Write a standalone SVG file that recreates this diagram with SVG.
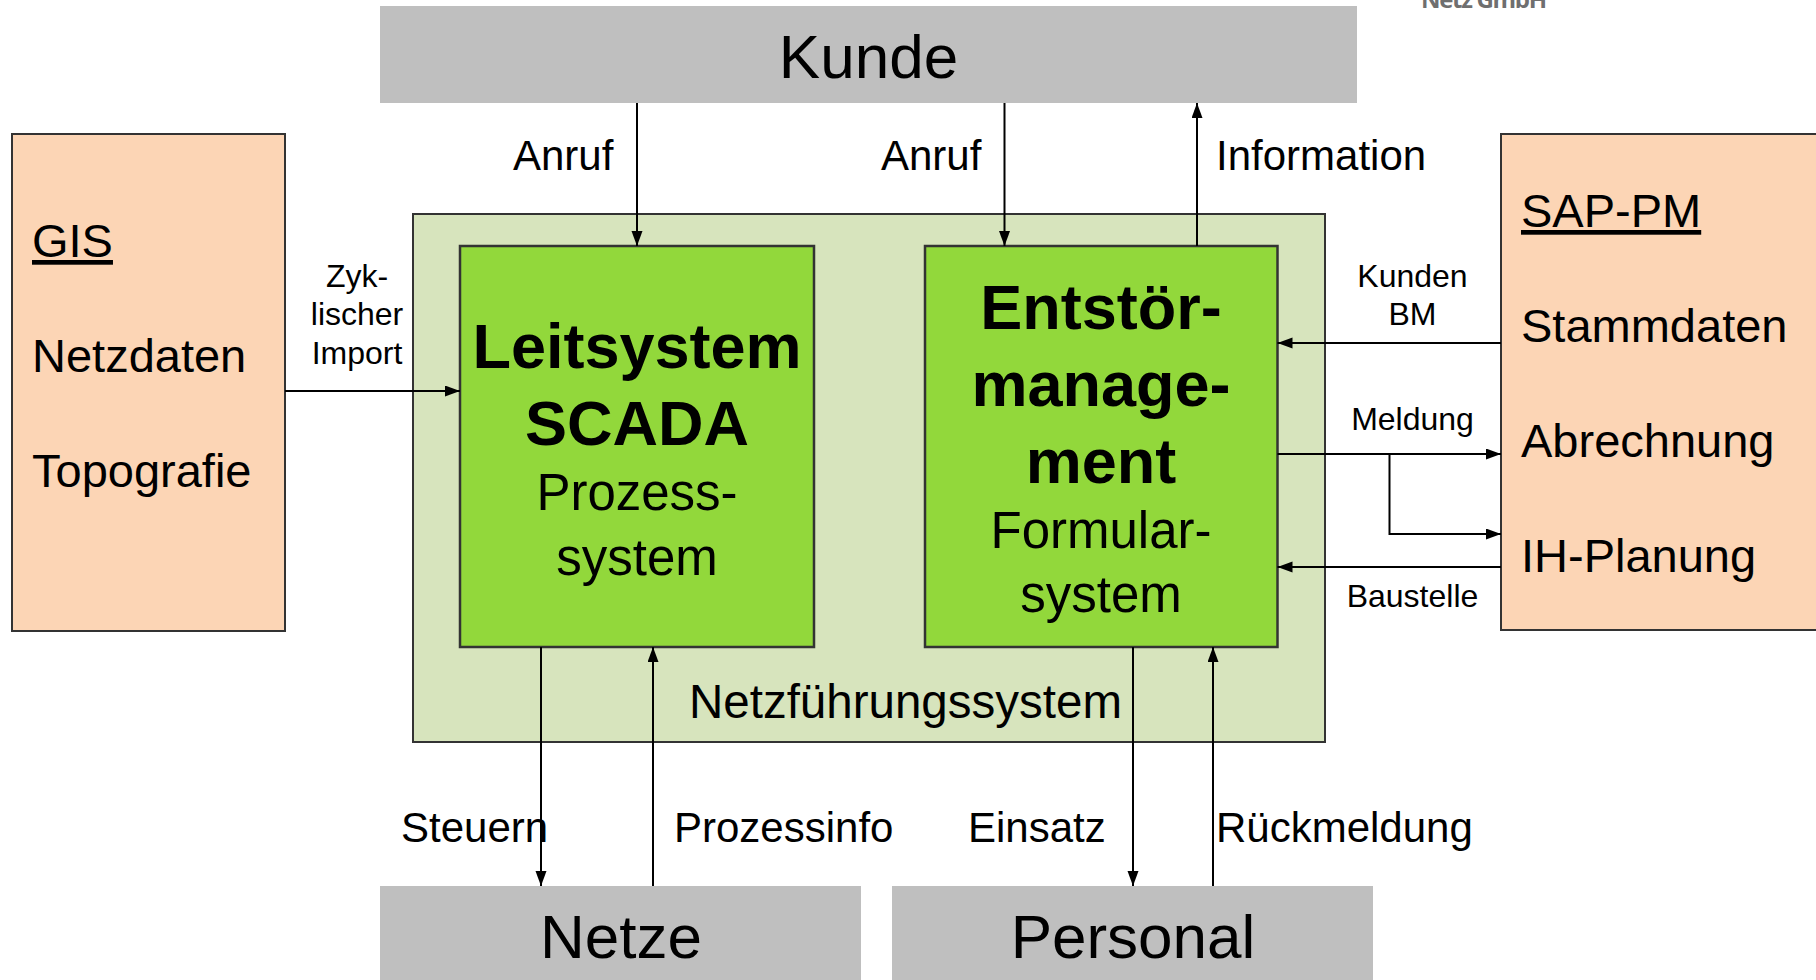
<svg xmlns="http://www.w3.org/2000/svg" width="1816" height="980" viewBox="0 0 1816 980">
<defs>
<marker id="ah" markerUnits="userSpaceOnUse" markerWidth="16" markerHeight="12" refX="15" refY="5.5" orient="auto">
<path d="M0,0 L15,5.5 L0,11 z" fill="#000"/>
</marker>
<style>
text{font-family:"Liberation Sans",Arial,sans-serif;fill:#000}
.gray{fill:#bfbfbf}
.peach{fill:#fcd5b5;stroke:#333;stroke-width:2}
.lg{fill:#d7e4bd;stroke:#333;stroke-width:2}
.green{fill:#92d83b;stroke:#333;stroke-width:2.5}
.big{font-size:62px}
.side{font-size:47px}
.lab{font-size:42px}
.sm{font-size:32px}
.bold{font-size:63px;font-weight:bold}
.reg{font-size:51px}
.c{text-anchor:middle}
.conn line,.conn polyline{stroke:#000;stroke-width:2;fill:none}
</style>
</defs>
<rect width="1816" height="980" fill="#fff"/>
<text x="1421" y="8" textLength="126" style="font-family:'Open Sans',sans-serif;font-weight:700;font-size:24px;fill:#6f6f6f">Netz GmbH</text>

<g id="kunde"><rect class="gray" x="380" y="6" width="977" height="97"/><text class="big c" x="868.5" y="78">Kunde</text></g>
<g id="gis"><rect class="peach" x="12" y="134" width="273" height="497"/>
<text class="side" x="32" y="257" text-decoration="underline">GIS</text>
<text class="side" x="32" y="372">Netzdaten</text>
<text class="side" x="32" y="487">Topografie</text></g>
<g id="sap"><rect class="peach" x="1501" y="134" width="330" height="496"/>
<text class="side" x="1521" y="227" text-decoration="underline">SAP-PM</text>
<text class="side" x="1521" y="342">Stammdaten</text>
<text class="side" x="1521" y="457">Abrechnung</text>
<text class="side" x="1521" y="572">IH-Planung</text></g>
<g id="nfs"><rect class="lg" x="413" y="214" width="912" height="528"/>
<text style="font-size:47.5px" x="689" y="718">Netzführungssystem</text></g>
<g id="leitsystem"><rect class="green" x="460" y="246" width="354" height="401"/>
<text class="bold c" x="637" y="368">Leitsystem</text>
<text class="bold c" x="637" y="445">SCADA</text>
<text class="reg c" x="637" y="510">Prozess-</text>
<text class="reg c" x="637" y="575">system</text></g>
<g id="entstoer"><rect class="green" x="925" y="246" width="352.5" height="401"/>
<text class="bold c" x="1101" y="329">Entstör-</text>
<text class="bold c" x="1101" y="406">manage-</text>
<text class="bold c" x="1101" y="483">ment</text>
<text class="reg c" x="1101" y="548">Formular-</text>
<text class="reg c" x="1101" y="612">system</text></g>
<g id="netze"><rect class="gray" x="380" y="886" width="481" height="110"/><text class="big c" x="621" y="958">Netze</text></g>
<g id="personal"><rect class="gray" x="892" y="886" width="481" height="110"/><text class="big c" x="1133" y="958">Personal</text></g>

<g class="conn" id="connectors">
<line x1="637" y1="103" x2="637" y2="246" marker-end="url(#ah)"/>
<line x1="1004.5" y1="103" x2="1004.5" y2="246" marker-end="url(#ah)"/>
<line x1="1197" y1="246" x2="1197" y2="103" marker-end="url(#ah)"/>
<line x1="285" y1="391" x2="460" y2="391" marker-end="url(#ah)"/>
<line x1="1501" y1="343" x2="1277.5" y2="343" marker-end="url(#ah)"/>
<line x1="1277.5" y1="454" x2="1501" y2="454" marker-end="url(#ah)"/>
<polyline points="1389.5,454 1389.5,534 1501,534" marker-end="url(#ah)"/>
<line x1="1501" y1="567" x2="1277.5" y2="567" marker-end="url(#ah)"/>
<line x1="541" y1="647" x2="541" y2="886" marker-end="url(#ah)"/>
<line x1="653" y1="886" x2="653" y2="647" marker-end="url(#ah)"/>
<line x1="1133" y1="647" x2="1133" y2="886" marker-end="url(#ah)"/>
<line x1="1213" y1="886" x2="1213" y2="647" marker-end="url(#ah)"/>
<text class="lab" x="513" y="170">Anruf</text>
<text class="lab" x="881" y="170">Anruf</text>
<text class="lab" x="1216" y="170">Information</text>
<text class="sm c" x="357" y="287">Zyk-</text>
<text class="sm c" x="357" y="325">lischer</text>
<text class="sm c" x="357" y="364">Import</text>
<text class="sm c" x="1412.5" y="287">Kunden</text>
<text class="sm c" x="1412.5" y="325">BM</text>
<text class="sm c" x="1412.5" y="430">Meldung</text>
<text class="sm c" x="1412.5" y="607">Baustelle</text>
<text class="lab" x="401" y="842">Steuern</text>
<text class="lab" x="674" y="842">Prozessinfo</text>
<text class="lab" x="968" y="842">Einsatz</text>
<text class="lab" x="1216" y="842">Rückmeldung</text>
</g>
</svg>
